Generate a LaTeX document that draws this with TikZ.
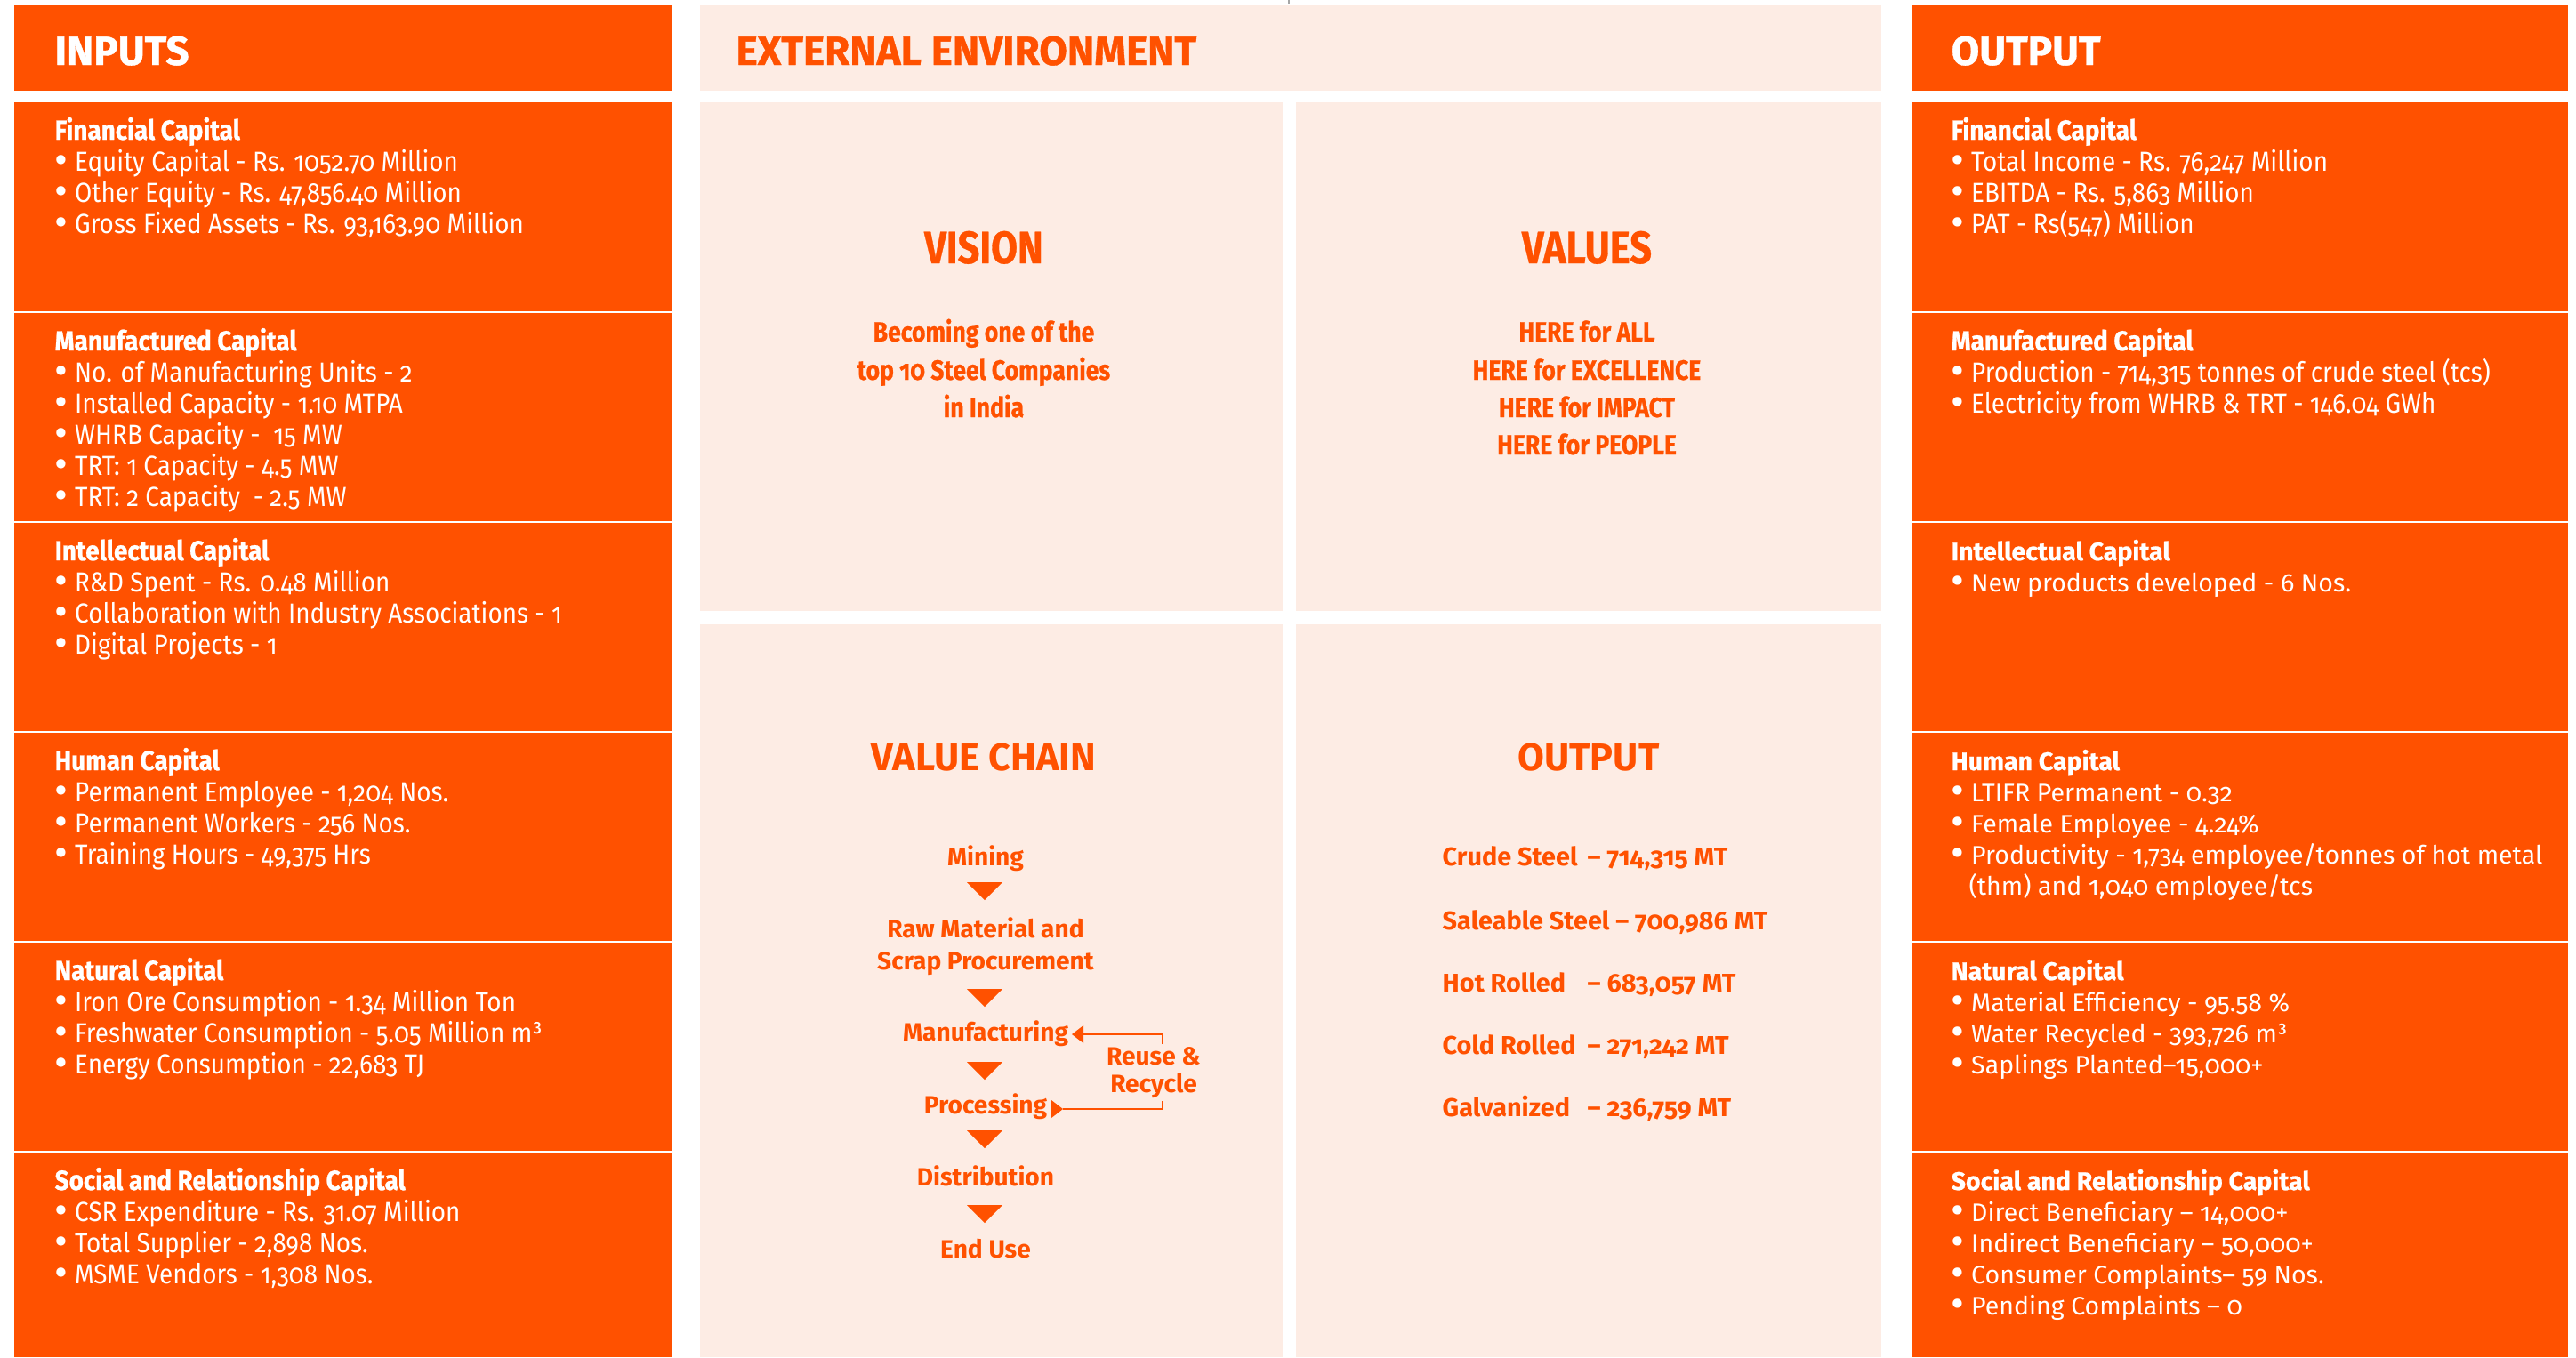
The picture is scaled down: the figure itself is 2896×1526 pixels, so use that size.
\documentclass[tikz,border=0pt]{standalone}
\usepackage{fontspec}
\setmainfont{Fira Sans}[Numbers=OldStyle]
\newfontfamily\condf{Fira Sans}[FakeStretch=0.9,Numbers=OldStyle]
\newfontfamily\heavyc{Fira Sans}[FakeStretch=0.9,Numbers=OldStyle,BoldFeatures={FakeBold=0.8}]
\newfontfamily\heavyg{Fira Sans}[FakeStretch=0.85,Numbers=OldStyle,BoldFeatures={FakeBold=0.6}]
\newfontfamily\widef{Fira Sans}[Numbers=OldStyle]
\newfontfamily\heavyw{Fira Sans}[Numbers=OldStyle,BoldFeatures={FakeBold=0.8}]
\definecolor{brand}{RGB}{255,81,0}
\definecolor{peach}{RGB}{253,236,228}
\newcommand\mybul{\makebox[0.225cm][l]{\smash{\raisebox{-1.1pt}{\widef\mdseries\fontsize{13}{13}\selectfont •}}}}
\tikzset{
  obox/.style={fill=brand},
  pbox/.style={fill=peach},
  line/.style={anchor=base west,inner sep=0,text height=6.5pt,text depth=2pt},
  cline/.style={anchor=base,inner sep=0,text height=6.5pt,text depth=2pt},
  hdr/.style={anchor=base west,inner sep=0,font=\heavyw\bfseries\fontsize{13}{15}\selectfont},
  capL/.style={line,text=white,font=\heavyc\bfseries\fontsize{8.8}{10}\selectfont},
  itmL/.style={line,text=white,font=\condf\fontsize{8.8}{10}\selectfont},
  capW/.style={line,text=white,font=\heavyw\bfseries\fontsize{8.1}{10}\selectfont},
  itmW/.style={line,text=white,font=\widef\fontsize{8.1}{10}\selectfont},
  vtitle/.style={anchor=base,inner sep=0,text=brand,font=\heavyg\bfseries\fontsize{14.5}{16}\selectfont},
  vbody/.style={cline,text=brand,font=\heavyg\bfseries\fontsize{8.9}{10}\selectfont},
  ctitle/.style={anchor=base,inner sep=0,text=brand,font=\widef\bfseries\fontsize{12.3}{14}\selectfont},
  chain/.style={cline,text=brand,font=\widef\bfseries\fontsize{8}{10}\selectfont},
  outrow/.style={line,text=brand,font=\widef\bfseries\fontsize{8.2}{10}\selectfont},
  tri/.style={fill=brand},
  loopline/.style={draw=brand,line width=0.8pt},
}
\begin{document}
\begin{tikzpicture}[x=0.01cm,y=-0.01cm]
\useasboundingbox (0,0) rectangle (2896,1526);
\fill[white] (0,0) rectangle (2896,1526);
\draw[gray!70,line width=0.3pt] (1449,0) -- (1449,5);

% ---------- left column ----------
\fill[obox] (16,6) rectangle (755,102);
\foreach \t/\b in {115/350,352/586,588/822,824/1058,1060/1294,1296/1526}
  \fill[obox] (16,\t) rectangle (755,\b);
\node[hdr,text=white] (inputs) at (61,73) {INPUTS};

\node[capL] (L1h) at (61,157) {Financial Capital};
\node[itmL] (L1a) at (61,192) {\mybul Equity Capital - Rs. 1052.70 Million};
\node[itmL] (L1b) at (61,227) {\mybul Other Equity - Rs. 47,856.40 Million};
\node[itmL] (L1c) at (61,262) {\mybul Gross Fixed Assets - Rs. 93,163.90 Million};

\node[capL] (L2h) at (61,394) {Manufactured Capital};
\node[itmL] (L2a) at (61,429) {\mybul No. of Manufacturing Units - 2};
\node[itmL] (L2b) at (61,464) {\mybul Installed Capacity - 1.10 MTPA};
\node[itmL] (L2c) at (61,499) {\mybul WHRB Capacity -\ \ 15 MW};
\node[itmL] (L2d) at (61,534) {\mybul TRT: 1 Capacity - 4.5 MW};
\node[itmL] (L2e) at (61,569) {\mybul TRT: 2 Capacity\ \ - 2.5 MW};

\node[capL] (L3h) at (61,630) {Intellectual Capital};
\node[itmL] (L3a) at (61,665) {\mybul R\&D Spent - Rs. 0.48 Million};
\node[itmL] (L3b) at (61,700) {\mybul Collaboration with Industry Associations - 1};
\node[itmL] (L3c) at (61,735) {\mybul Digital Projects - 1};

\node[capL] (L4h) at (61,866) {Human Capital};
\node[itmL] (L4a) at (61,901) {\mybul Permanent Employee - 1,204 Nos.};
\node[itmL] (L4b) at (61,936) {\mybul Permanent Workers - 256 Nos.};
\node[itmL] (L4c) at (61,971) {\mybul Training Hours - 49,375 Hrs};

\node[capL] (L5h) at (61,1102) {Natural Capital};
\node[itmL] (L5a) at (61,1137) {\mybul Iron Ore Consumption - 1.34 Million Ton};
\node[itmL] (L5b) at (61,1172) {\mybul Freshwater Consumption - 5.05 Million m³};
\node[itmL] (L5c) at (61,1207) {\mybul Energy Consumption - 22,683 TJ};

\node[capL] (L6h) at (61,1338) {Social and Relationship Capital};
\node[itmL] (L6a) at (61,1373) {\mybul CSR Expenditure - Rs. 31.07 Million};
\node[itmL] (L6b) at (61,1408) {\mybul Total Supplier - 2,898 Nos.};
\node[itmL] (L6c) at (61,1443) {\mybul MSME Vendors - 1,308 Nos.};

% ---------- middle ----------
\fill[pbox] (787,6) rectangle (2115,102);
\fill[pbox] (787,115) rectangle (1442,687);
\fill[pbox] (1457,115) rectangle (2115,687);
\fill[pbox] (787,702) rectangle (1442,1526);
\fill[pbox] (1457,702) rectangle (2115,1526);
\node[hdr,text=brand] (extenv) at (827,73) {EXTERNAL ENVIRONMENT};

\node[vtitle] (vision) at (1106,296) {VISION};
\node[vbody] (vis1) at (1106,384) {Becoming one of the};
\node[vbody] (vis2) at (1106,427) {top 10 Steel Companies};
\node[vbody] (vis3) at (1106,469) {in India};

\node[vtitle] (values) at (1784,296) {VALUES};
\node[vbody] (val1) at (1784,384) {HERE for ALL};
\node[vbody] (val2) at (1784,427) {HERE for EXCELLENCE};
\node[vbody] (val3) at (1784,469) {HERE for IMPACT};
\node[vbody] (val4) at (1784,511) {HERE for PEOPLE};

\node[ctitle] (vchain) at (1106,866) {VALUE CHAIN};
\node[chain] (mining) at (1108,973) {Mining};
\node[chain] (raw1) at (1108,1054) {Raw Material and};
\node[chain] (raw2) at (1108,1090) {Scrap Procurement};
\node[chain] (manuf) at (1108,1170) {Manufacturing};
\node[chain] (proc) at (1108,1252) {Processing};
\node[chain] (distr) at (1108,1333) {Distribution};
\node[chain] (enduse) at (1108,1414) {End Use};
\node[chain] (reuse1) at (1297,1197) {Reuse \&};
\node[chain] (reuse2) at (1297,1228) {Recycle};

\foreach \ty in {992,1112,1194,1271,1355}
  \fill[tri] (1087,\ty) -- (1127,\ty) -- (1107,\ty+20) -- cycle;

\coordinate (mtip) at (1205,1163);
\coordinate (mbase) at (1218,1163);
\coordinate (rtop) at (1307,1163);
\coordinate (rtopend) at (1307,1174);
\coordinate (pbase) at (1182,1247);
\coordinate (ptip) at (1195,1247);
\coordinate (rbot) at (1307,1247);
\coordinate (rbotend) at (1307,1238);
\fill[tri] (mtip) -- ([yshift=-0.1cm]mbase) -- ([yshift=0.1cm]mbase) -- cycle;
\draw[loopline] (rtopend) -- (rtop) -- (mbase);
\fill[tri] ([yshift=-0.1cm]pbase) -- (ptip) -- ([yshift=0.1cm]pbase) -- cycle;
\draw[loopline] (ptip) -- (rbot) -- (rbotend);

\node[ctitle] (outtitle) at (1786,866) {OUTPUT};
\node[outrow] (o1) at (1621,973) {Crude Steel};
\node[outrow] (o1v) at (1784,973) {– 714,315 MT};
\node[outrow] (o2) at (1621,1045) {Saleable Steel – 700,986 MT};
\node[outrow] (o3) at (1621,1115) {Hot Rolled};
\node[outrow] (o3v) at (1784,1115) {– 683,057 MT};
\node[outrow] (o4) at (1621,1185) {Cold Rolled};
\node[outrow] (o4v) at (1784,1185) {– 271,242 MT};
\node[outrow] (o5) at (1621,1255) {Galvanized};
\node[outrow] (o5v) at (1784,1255) {– 236,759 MT};

% ---------- right column ----------
\fill[obox] (2149,6) rectangle (2887,102);
\foreach \t/\b in {115/350,352/586,588/822,824/1058,1060/1294,1296/1526}
  \fill[obox] (2149,\t) rectangle (2887,\b);
\node[hdr,text=white] (output) at (2193,73) {OUTPUT};

\node[capL] (R1h) at (2193,157) {Financial Capital};
\node[itmL] (R1a) at (2193,192) {\mybul Total Income - Rs. 76,247 Million};
\node[itmL] (R1b) at (2193,227) {\mybul EBITDA - Rs. 5,863 Million};
\node[itmL] (R1c) at (2193,262) {\mybul PAT - Rs(547) Million};

\node[capL] (R2h) at (2193,394) {Manufactured Capital};
\node[itmL] (R2a) at (2193,429) {\mybul Production - 714,315 tonnes of crude steel (tcs)};
\node[itmL] (R2b) at (2193,464) {\mybul Electricity from WHRB \& TRT - 146.04 GWh};

\node[capW] (R3h) at (2193,630) {Intellectual Capital};
\node[itmW] (R3a) at (2193,665) {\mybul New products developed - 6 Nos.};

\node[capW] (R4h) at (2193,866) {Human Capital};
\node[itmW] (R4a) at (2193,901) {\mybul LTIFR Permanent - 0.32};
\node[itmW] (R4b) at (2193,936) {\mybul Female Employee - 4.24\%};
\node[itmW] (R4c) at (2193,971) {\mybul Productivity - 1,734 employee/tonnes of hot metal};
\node[itmW] (R4d) at (2213,1006) {(thm) and 1,040 employee/tcs};

\node[capW] (R5h) at (2193,1102) {Natural Capital};
\node[itmW] (R5a) at (2193,1137) {\mybul Material Efficiency - 95.58 \%};
\node[itmW] (R5b) at (2193,1172) {\mybul Water Recycled - 393,726 m³};
\node[itmW] (R5c) at (2193,1207) {\mybul Saplings Planted–15,000+};

\node[capW] (R6h) at (2193,1338) {Social and Relationship Capital};
\node[itmW] (R6a) at (2193,1373) {\mybul Direct Beneficiary – 14,000+};
\node[itmW] (R6b) at (2193,1408) {\mybul Indirect Beneficiary – 50,000+};
\node[itmW] (R6c) at (2193,1443) {\mybul Consumer Complaints– 59 Nos.};
\node[itmW] (R6d) at (2193,1478) {\mybul Pending Complaints – 0};
\end{tikzpicture}
\end{document}
